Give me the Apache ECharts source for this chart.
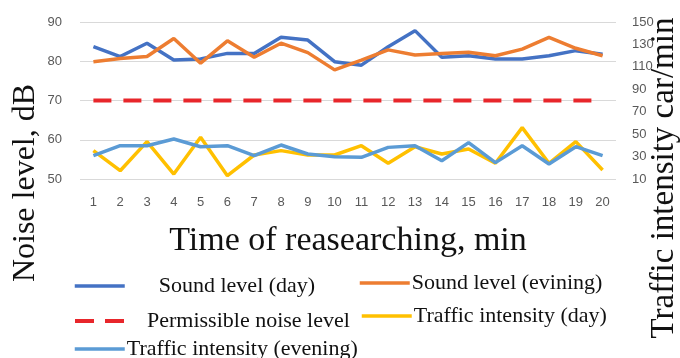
<!DOCTYPE html>
<html>
<head>
<meta charset="utf-8">
<script src="https://cdn.jsdelivr.net/npm/echarts@6/dist/echarts.min.js"></script>
<style>html,body{margin:0;padding:0;background:#fff;}#c{width:680px;height:358px;}</style>
</head>
<body>
<div id="c"></div>
<script>
const categories = ['1','2','3','4','5','6','7','8','9','10','11','12','13','14','15','16','17','18','19','20'];
const soundDay = [83.7,81.2,84.6,80.3,80.6,82.0,82.0,86.1,85.4,79.9,79.0,83.7,87.8,81.0,81.4,80.6,80.6,81.4,82.7,81.8];
const soundEvening = [79.9,80.7,81.2,85.8,79.5,85.2,81.0,84.6,82.2,77.8,80.3,82.9,81.6,82.0,82.3,81.4,83.1,86.1,83.3,81.4];
const permissible = [70,70,70,70,70,70,70,70,70,70,70,70,70,70,70,70,70,70,70,70];
const trafficDay = [35.3,17.4,43.3,14.4,47.2,13.0,31.4,35.3,31.4,31.4,39.7,24.0,38.8,32.3,36.7,24.0,55.8,24.0,43.3,18.0];
const trafficEvening = [30.8,39.7,39.7,45.7,38.8,39.7,30.8,40.3,32.3,29.9,29.3,38.2,39.7,26.3,42.4,24.6,39.7,23.4,38.8,30.8];
const names = ['Sound level (day)','Sound level (evining)','Permissible noise level','Traffic intensity (day)','Traffic intensity (evening)'];

const serif = '"Liberation Serif", "Times New Roman", serif';
const tickFont = {fontFamily:'"Liberation Sans", Arial, sans-serif', fontSize:13, color:'#595959'};
const legendText = {fontFamily: serif, fontSize: 22, color:'#111'};

function leg(name, left, top, gap, dash) {
  return {
    data:[name], left:left, top:top, padding:0, itemWidth:50, itemHeight:14, itemGap:0,
    itemStyle:{opacity:0},
    lineStyle:{width:dash ? 4 : 3.5, type: dash ? [19,11] : 'solid', cap:'butt'},
    textStyle:Object.assign({padding:[0,0,0,gap]}, legendText)
  };
}

const chart = echarts.init(document.getElementById('c'), null, {renderer:'canvas'});
chart.setOption({
  animation:false,
  grid:{left:80, right:64, top:22, bottom:179},
  xAxis:{type:'category', data:categories, boundaryGap:true,
    axisLine:{show:false}, axisTick:{show:false},
    axisLabel:Object.assign({margin:17}, tickFont)},
  yAxis:[
    {type:'value', min:50, max:90, interval:10, position:'left',
     axisLine:{show:false}, axisTick:{show:false},
     axisLabel:Object.assign({margin:18}, tickFont),
     splitLine:{lineStyle:{color:'#d9d9d9', width:1}}},
    {type:'value', min:10, max:150, interval:20, position:'right',
     axisLine:{show:false}, axisTick:{show:false},
     axisLabel:Object.assign({margin:16}, tickFont),
     splitLine:{show:false}}
  ],
  legend:[
    leg(names[0], 73, 275, 29),
    leg(names[1], 358, 272, -3),
    leg(names[2], 73, 310, 17, true),
    leg(names[3], 360, 305, -3),
    leg(names[4], 73, 338, -3)
  ],
  series:[
    {name:names[0], type:'line', data:soundDay, yAxisIndex:0, symbol:'none', lineStyle:{color:'#4472C4', width:3.5}, itemStyle:{color:'#4472C4'}},
    {name:names[1], type:'line', data:soundEvening, yAxisIndex:0, symbol:'none', lineStyle:{color:'#ED7D31', width:3.5}, itemStyle:{color:'#ED7D31'}},
    {name:names[2], type:'line', data:permissible, yAxisIndex:0, symbol:'none', lineStyle:{color:'#E8262B', width:4, type:[18,12]}, itemStyle:{color:'#E8262B'}},
    {name:names[3], type:'line', data:trafficDay, yAxisIndex:1, symbol:'none', lineStyle:{color:'#FFC000', width:3.5}, itemStyle:{color:'#FFC000'}},
    {name:names[4], type:'line', data:trafficEvening, yAxisIndex:1, symbol:'none', lineStyle:{color:'#5B9BD5', width:3.5}, itemStyle:{color:'#5B9BD5'}}
  ],
  graphic:[
    {type:'text', x:26, y:183, rotation:Math.PI/2, style:{text:'Noise level, dB', font:'32px '+serif, fill:'#111', textAlign:'center', textVerticalAlign:'middle'}},
    {type:'text', x:664, y:178, rotation:Math.PI/2, style:{text:'Traffic intensity car/min', font:'33px '+serif, fill:'#111', textAlign:'center', textVerticalAlign:'middle'}},
    {type:'text', x:348, y:241, style:{text:'Time of reasearching, min', font:'34px '+serif, fill:'#111', textAlign:'center', textVerticalAlign:'middle'}}
  ]
});
</script>
</body>
</html>
